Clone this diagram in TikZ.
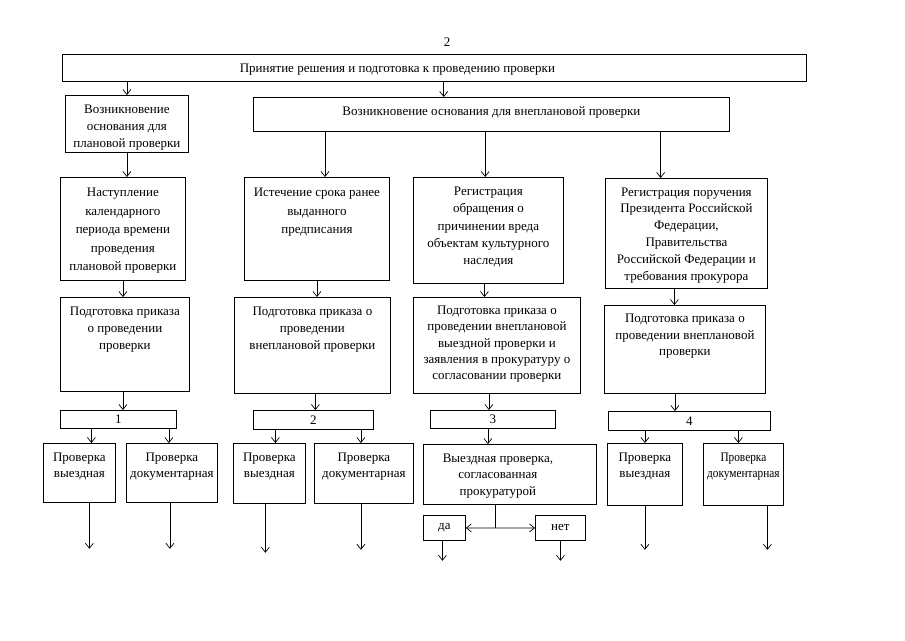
\documentclass[tikz,border=0pt]{standalone}
\usepackage{fontspec}
\usepackage{graphicx}
\setmainfont{Liberation Serif}
\usetikzlibrary{positioning,calc,arrows.meta}
% box text: [line skip]{width}{height}{lines}
\newcommand{\cell}[4][17]{\parbox[c][#3pt][t]{#2pt}{\centering\fontsize{13}{#1}\selectfont
  \vspace*{6pt}\begin{tabular}{@{}c@{}}#4\end{tabular}\par}}

\begin{document}
\begin{tikzpicture}[x=1pt, y=-1pt,
  stage/.style={draw, line width=0.8pt, inner sep=0pt, anchor=north west},
  tag/.style={draw, line width=0.8pt, inner sep=0pt, anchor=north west, font=\fontsize{13}{17}\selectfont},
  arr/.style={line width=0.7pt, -{Straight Barb[length=5pt,width=8pt]}},
]
\useasboundingbox (0,0) rectangle (905,640);
\node[font=\fontsize{13}{17}\selectfont] (pg) at (447,42) {2};

% top row
\node[stage] (top) at (62,54) {\cell{744}{27}{Принятие решения и подготовка к проведению проверки\hspace*{74pt}\mbox{}}};
\node[stage] (plan) at (65,95) {\cell{123}{57}{Возникновение\\основания для\\плановой проверки}};
\node[stage] (unplan) at (253,97) {\cell{476}{34}{Возникновение основания для внеплановой проверки}};

% grounds
\node[stage] (a2) at (60,177) {\cell[18.6]{125}{103}{Наступление\\календарного\\периода времени\\проведения\\плановой проверки}};
\node[stage] (b2) at (244,177) {\cell[18.6]{145}{103}{Истечение срока ранее\\выданного\\предписания}};
\node[stage] (c2) at (413,177) {\cell[17.3]{150}{106}{Регистрация\\обращения о\\причинении вреда\\объектам культурного\\наследия}};
\node[stage] (d2) at (605,178) {\cell[16.8]{162}{110}{Регистрация поручения\\Президента Российской\\Федерации,\\Правительства\\Российской Федерации и\\требования прокурора}};

% orders
\node[stage] (a3) at (60,297) {\cell{129}{94}{Подготовка приказа\\о проведении\\проверки}};
\node[stage] (b3) at (234,297) {\cell{156}{96}{Подготовка приказа о\\проведении\\внеплановой проверки}};
\node[stage] (c3) at (413,297) {\cell[16.2]{167}{96}{Подготовка приказа о\\проведении внеплановой\\выездной проверки и\\заявления в прокуратуру о\\согласовании проверки}};
\node[stage] (d3) at (604,305) {\cell[16.5]{161}{88}{Подготовка приказа о\\проведении внеплановой\\проверки}};

% numbers
\node[tag, minimum width=116, minimum height=18] (n1) at (60,410) {1};
\node[tag, minimum width=120, minimum height=19] (n2) at (253,410) {2};
\node[tag, minimum width=125, minimum height=18] (n3) at (430,410) {3};
\node[tag, minimum width=162, minimum height=19] (n4) at (608,411) {4};

% kinds of check
\node[stage] (v1) at (43,443) {\cell[16.7]{72}{59}{Проверка\\выездная}};
\node[stage] (k1) at (126,443) {\cell[16.7]{91}{59}{Проверка\\документарная}};
\node[stage] (v2) at (233,443) {\cell[16.7]{72}{60}{Проверка\\выездная}};
\node[stage] (k2) at (314,443) {\cell[16.7]{99}{60}{Проверка\\документарная}};
\node[stage] (cons) at (423,444) {\cell[16.7]{173}{60}{Выездная проверка,\hspace*{24pt}\\согласованная\hspace*{24pt}\\прокуратурой\hspace*{24pt}}};
\node[stage] (v4) at (607,443) {\cell[16.7]{75}{62}{Проверка\\выездная}};
\node[stage] (k4) at (703,443) {\cell[16.7]{80}{62}{\scalebox{0.87}[1]{Проверка}\\\scalebox{0.87}[1]{документарная}}};
\node[tag, minimum width=42, minimum height=25] (yes) at (423,515) {да};
\node[tag, minimum width=50, minimum height=25] (no) at (535,515) {нет};

% connectors
\coordinate (tu) at ($(unplan.north west)!0.4!(unplan.north east)$);
\draw[arr] (plan.north |- top.south) -- (plan.north);
\draw[arr] (tu |- top.south) -- (tu);
\draw[arr] (plan.south) -- (plan.south |- a2.north);
\foreach \n/\f in {b2/0.151, c2/0.487, d2/0.855} {
  \coordinate (u\n) at ($(unplan.south west)!\f!(unplan.south east)$);
  \draw[arr] (u\n) -- (u\n |- \n.north);
}
\foreach \p/\q/\s in {a2/a3/0, b2/b3/0, c2/c3/-4, d2/d3/-12, a3/n1/-2, b3/n2/3, c3/n3/-8, d3/n4/-10}
  \draw[arr] ([xshift=\s]\p.south) -- ([xshift=\s]\p.south |- \q.north);
\foreach \p/\q/\s in {n1/v1/12, n1/k1/-3, n2/v2/6, n2/k2/-3, n3/cons/-22, n4/v4/0, n4/k4/-5}
  \draw[arr] ([xshift=\s]\q.north |- \p.south) -- ([xshift=\s]\q.north);
% free ends
\foreach \n/\s/\l in {v1/10/46, k1/-2/46, v2/-4/49, k2/-3/46, v4/0/44, k4/24/44, yes/-2/20, no/0/20}
  \draw[arr] ([xshift=\s]\n.south) -- ++(0,\l);
% yes / no fork
\coordinate (fork) at ($(yes.east)!0.42!(no.west)$);
\draw[line width=0.7pt] (cons.south -| fork) -- (fork);
\draw[arr] (fork) -- (yes.east);
\draw[arr] (fork) -- (no.west);
\end{tikzpicture}
\end{document}
